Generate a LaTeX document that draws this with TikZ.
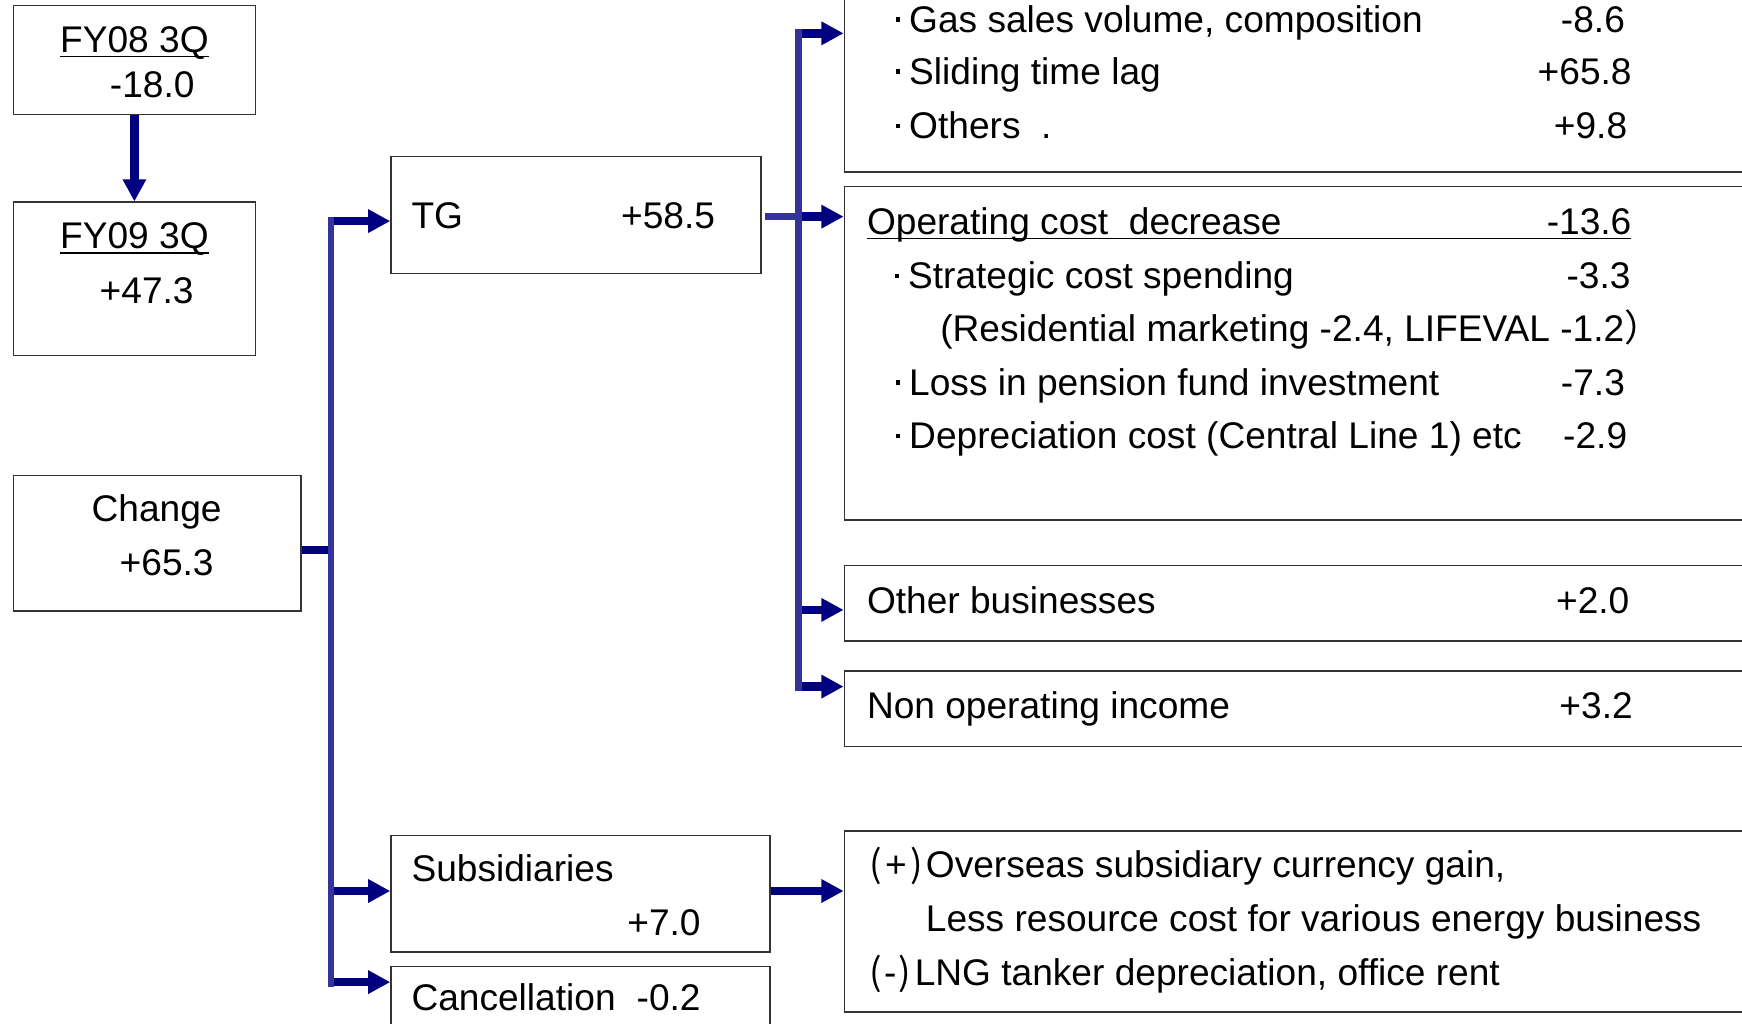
\documentclass[tikz,border=0pt]{standalone}
\usepackage{fontspec}
\setmainfont{Liberation Sans}
\newfontfamily\cjk{Noto Sans CJK JP}
\usepackage{tikz}
\usetikzlibrary{arrows.meta,fit}
\definecolor{cNavy}{RGB}{0,0,128}
\definecolor{cSpine}{RGB}{51,51,153}
\newcommand\fs{\fontsize{16.7}{20}\selectfont}
\newcommand\kdot{\makebox[10pt][c]{\rule[4.8pt]{2pt}{2pt}}}
\newcommand\undl[1]{\setbox0\hbox{#1}\rlap{\rule[-2.2pt]{\wd0}{0.7pt}}\box0}
\tikzset{
  cBox/.style={draw=black!80,line width=.65pt,inner sep=0pt,fill=white},
  cLbl/.style={anchor=base west,inner sep=0pt},
  cNum/.style={anchor=base east,inner sep=0pt},
  cMid/.style={anchor=base,inner sep=0pt},
  cLine/.style={draw=cNavy,line width=3.9pt},
  cFeed/.style={cLine,-{Triangle[length=10pt,width=10pt]}},
  cSpine/.style={draw=cSpine,line width=3pt},
}

\begin{document}
\begin{tikzpicture}[x=.5pt,y=-.5pt,font=\fs]
\useasboundingbox (0,0) rectangle (1568,921);
\fill[white] (0,0) rectangle (1568,921);
\clip (0,0) rectangle (1568,921);
% left column
\node[cBox,fit={(12,5) (230,103)}]    (fy08) {};
\node[cBox,fit={(12,182) (230,320)}]  (fy09) {};
\node[cBox,fit={(12,428) (271,550)}]  (chg)  {};
\node[cMid] (fy08a) at (121,47)  {\undl{FY08 3Q}};
\node[cMid] (fy08b) at (137,88)  {-18.0};
\node[cMid] (fy09a) at (121,224) {\undl{FY09 3Q}};
\node[cMid] (fy09b) at (132,273) {+47.3};
\node[cMid] (chga)  at (141,469) {Change};
\node[cMid] (chgb)  at (150,518) {+65.3};
% middle column
\node[cBox,fit={(352,141) (685,246)}] (tg)   {};
\node[cBox,fit={(352,752) (693,857)}] (subs) {};
\node[cBox,fit={(352,870) (693,990)}] (canc) {};
\node[cLbl] (tga)   at (370,206) {TG};
\node[cNum] (tgb)   at (644,206) {+58.5};
\node[cLbl] (subsa) at (370,793) {Subsidiaries};
\node[cNum] (subsb) at (631,842) {+7.0};
\node[cLbl] (canca) at (370,910) {Cancellation};
\node[cNum] (cancb) at (631,910) {-0.2};
% right column
\node[cBox,fit={(760,-60) (1640,155)}]  (gas)  {};
\node[cBox,fit={(760,168) (1640,468)}]  (opx)  {};
\node[cBox,fit={(760,509) (1640,577)}]  (oth)  {};
\node[cBox,fit={(760,604) (1640,672)}]  (nop)  {};
\node[cBox,fit={(760,748) (1640,911)}]  (subx) {};
\node[cLbl] (gas1) at (798,29)  {\kdot Gas sales volume, composition};
\node[cNum] (gas1v) at (1463,29) {-8.6};
\node[cLbl] (gas2) at (798,76)  {\kdot Sliding time lag};
\node[cNum] (gas2v) at (1469,76) {+65.8};
\node[cLbl] (gas3) at (798,125) {\kdot Others~~.};
\node[cNum] (gas3v) at (1465,125) {+9.8};
\node[cLbl] (opx0) at (780,211) {\undl{\makebox[344pt][l]{Operating cost~~decrease\hfill-13.6}}};
\node[cLbl] (opx1) at (797,260) {\kdot Strategic cost spending};
\node[cNum] (opx1v) at (1468,260) {-3.3};
\node[cLbl] (opx2) at (846,307) {(Residential marketing -2.4, LIFEVAL -1.2{\cjk ）}};
\node[cLbl] (opx3) at (798,356) {\kdot Loss in pension fund investment};
\node[cNum] (opx3v) at (1463,356) {-7.3};
\node[cLbl] (opx4) at (798,404) {\kdot Depreciation cost (Central Line 1) etc};
\node[cNum] (opx4v) at (1465,404) {-2.9};
\node[cLbl] (otha) at (780,552) {Other businesses};
\node[cNum] (othb) at (1467,552) {+2.0};
\node[cLbl] (nopa) at (780,647) {Non operating income};
\node[cNum] (nopb) at (1470,647) {+3.2};
\node[cLbl] (subx1) at (780,790) {\makebox[25pt][s]{\hspace{1pt}{\cjk (}\hfil+\hfil{\cjk )}}\hspace{1.5pt}Overseas subsidiary currency gain,};
\node[cLbl] (subx2) at (833,838) {Less resource cost for various energy business};
\node[cLbl] (subx3) at (780,887) {\makebox[20pt][s]{\hspace{1pt}{\cjk (}\hfil-\hfil{\cjk )}}\hspace{1.5pt}LNG tanker depreciation, office rent};
% connectors
\coordinate (spL) at (298,495);
\coordinate (spR) at (719,195);
\draw[cFeed] (fy08.south) -- (fy09.north);
\draw[cLine] (chg.east |- spL) -- (spL);
\draw[cFeed] (spL |- 0,199) -- (tg.west |- 0,199);
\draw[cFeed] (spL |- 0,802) -- (subs.west |- 0,802);
\draw[cFeed] (spL |- 0,884) -- (canc.west |- 0,884);
\draw[cFeed] (spR) -- (opx.west |- spR);
\draw[cFeed] (spR |- 0,30) -- (gas.west |- 0,30);
\draw[cFeed] (spR |- 0,549) -- (oth.west |- 0,549);
\draw[cFeed] (spR |- 0,618) -- (nop.west |- 0,618);
\draw[cFeed] (subs.east |- 0,802) -- (subx.west |- 0,802);
\draw[cSpine] (spL |- 0,195) -- (spL |- 0,888);
\draw[cSpine] (spR |- 0,26) -- (spR |- 0,622);
\draw[cSpine] ([xshift=1.5pt]tg.east |- spR) -- (spR);
\end{tikzpicture}
\end{document}
